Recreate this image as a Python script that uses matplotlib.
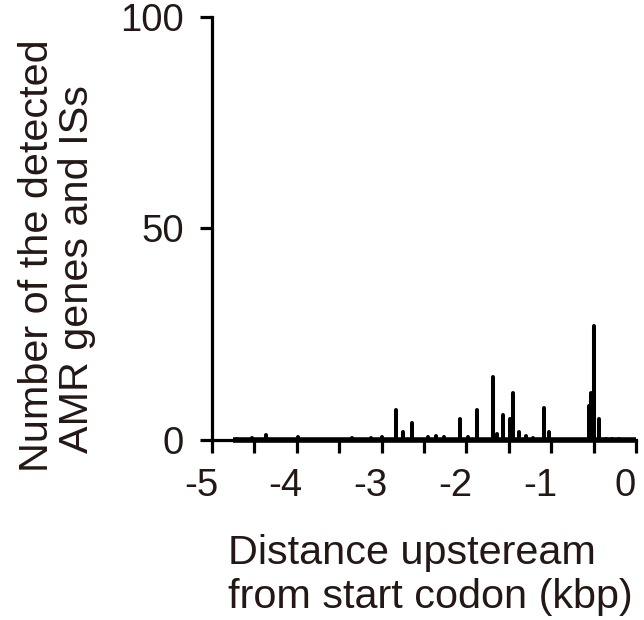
import matplotlib
matplotlib.use("Agg")
import matplotlib.pyplot as plt
from matplotlib.transforms import ScaledTranslation

plt.rcParams['font.family'] = ['Liberation Sans', 'DejaVu Sans']

# Data (kbp upstream of start codon, counts)
spike_pos = [-4.70, -4.53, -4.36, -3.98, -3.35, -3.13, -3.00, -2.83, -2.75, -2.64,
             -2.45, -2.36, -2.27, -2.08, -1.98, -1.87, -1.69, -1.64, -1.565, -1.49,
             -1.455, -1.38, -1.30, -1.22, -1.09, -1.03, -0.56, -0.53, -0.49, -0.44,
             -0.35, -0.28, -0.20]
spike_cnt = [0.3, 0.5, 1.2, 0.8, 0.5, 0.5, 0.6, 7.0, 2.0, 4.0,
             0.8, 0.9, 0.8, 5.0, 0.8, 7.0, 15.0, 1.5, 6.0, 5.0,
             11.0, 2.0, 1.0, 0.5, 7.5, 2.0, 8.0, 11.0, 27.0, 5.0,
             0.3, 0.3, 0.3]
baseline_range = [-4.75, 0.0]

xticks_major = [-5, -4, -3, -2, -1, 0]
xticks_minor = [-4.5, -3.5, -2.5, -1.5, -0.5]
yticks = [0, 50, 100]

xlabel_lines = ['Distance upsteream', 'from start codon (kbp)']
ylabel_lines = ['Number of the detected', 'AMR genes and ISs']

txt = '#231815'
W, H = 644, 620
fig = plt.figure(figsize=(W/100, H/100), dpi=100)
ax = fig.add_axes([212/W, 1-440/H, 424/W, 423/H])

ax.plot(baseline_range, [0, 0], color='black', lw=4.0, solid_capstyle='butt', zorder=3, clip_on=False)
ax.vlines(spike_pos, 0, spike_cnt, color='black', lw=2.9, capstyle='round', zorder=3)

ax.set_xlim(-5, 0)
ax.set_ylim(0, 100)
for s in ['top', 'right']:
    ax.spines[s].set_visible(False)
for s in ['left', 'bottom']:
    ax.spines[s].set_linewidth(2.3)
    ax.spines[s].set_color('black')

ax.set_xticks(xticks_major)
ax.set_xticklabels([str(v) for v in xticks_major])
ax.set_xticks(xticks_minor, minor=True)
ax.set_yticks(yticks)
ax.set_yticklabels([str(v) for v in yticks])
ax.tick_params(axis='both', which='both', direction='out', width=2.3, length=9,
               labelsize=27.5, labelcolor=txt, color='black')
ax.tick_params(axis='x', which='major', pad=11)
ax.tick_params(axis='y', which='major', pad=11)
shift = ScaledTranslation(-11/100, 0, fig.dpi_scale_trans)
for lab in ax.get_xticklabels():
    lab.set_transform(lab.get_transform() + shift)

fs = 29.8
fig.text(227.5/W, 1-564/H, xlabel_lines[0], fontsize=fs, color=txt, ha='left', va='baseline')
fig.text(227.5/W, 1-608/H, xlabel_lines[1], fontsize=fs, color=txt, ha='left', va='baseline')
fig.text(48/W, 1-256/H, ylabel_lines[0], fontsize=fs, color=txt, ha='center', va='baseline',
         rotation=90, rotation_mode='anchor')
fig.text(88/W, 1-269.5/H, ylabel_lines[1], fontsize=fs, color=txt, ha='center', va='baseline',
         rotation=90, rotation_mode='anchor')

fig.savefig('out.png', dpi=100)
